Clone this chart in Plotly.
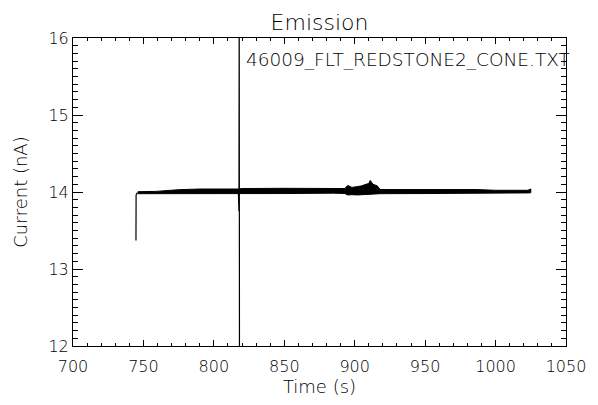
import plotly.graph_objects as go

# ---- data ----
start_t = [744.7, 744.8, 745.4, 746.0]
start_v = [13.37, 13.96, 13.985, 13.99]

band_t = [746, 759, 775, 790, 817, 820, 850, 885, 893, 895, 898, 902, 905, 908,
          910, 911, 913, 916, 918, 950, 986, 1000, 1015, 1023, 1025]
band_hi = [14.004, 14.008, 14.030, 14.039, 14.039, 14.045, 14.048, 14.050, 14.045,
           14.085, 14.060, 14.070, 14.080, 14.100, 14.110, 14.150, 14.100, 14.080,
           14.032, 14.032, 14.032, 14.022, 14.022, 14.022, 14.040]
band_lo = [13.978, 13.978, 13.975, 13.975, 13.975, 13.978, 13.980, 13.985, 13.980,
           13.962, 13.965, 13.962, 13.965, 13.962, 13.965, 13.970, 13.972, 13.975,
           13.978, 13.980, 13.980, 13.988, 13.988, 13.988, 13.990]

spike_t = [817.4, 817.6, 817.8, 818.0, 818.2]
spike_v = [14.0, 16.5, 13.75, 16.5, 11.5]

x_ticks = [700, 750, 800, 850, 900, 950, 1000, 1050]
y_ticks = [12, 13, 14, 15, 16]

title_text = "Emission"
file_label = "46009_FLT_REDSTONE2_CONE.TXT"
x_title = "Time (s)"
y_title = "Current (nA)"

FONT = "DejaVu Sans"
W = 200
TXT = "black"

fig = go.Figure()
fig.add_trace(go.Scatter(
    x=band_t + band_t[::-1], y=band_hi + band_lo[::-1],
    mode="lines", fill="toself", fillcolor="black",
    line=dict(color="black", width=1), hoverinfo="skip", showlegend=False))
fig.add_trace(go.Scatter(x=start_t, y=start_v, mode="lines",
                         line=dict(color="black", width=1.2), showlegend=False))
fig.add_trace(go.Scatter(x=spike_t, y=spike_v, mode="lines",
                         line=dict(color="black", width=1.2), showlegend=False))

axis_common = dict(showline=True, linecolor="black", linewidth=1, mirror="ticks",
                   ticks="inside", tickcolor="black", showgrid=False, zeroline=False,
                   tickfont=dict(family=FONT, size=16, color=TXT, weight=W))

fig.update_xaxes(range=[700, 1050], tickvals=x_ticks, ticktext=[str(v) for v in x_ticks],
                 ticklen=6, tickwidth=1, ticklabelstandoff=6,
                 minor=dict(dtick=10, tick0=700, ticklen=3, ticks="inside", tickcolor="black", showgrid=False),
                 title=dict(text=x_title, font=dict(family=FONT, size=18, color=TXT, weight=W), standoff=4),
                 **axis_common)
fig.update_yaxes(range=[12, 16], tickvals=y_ticks, ticktext=[str(v) for v in y_ticks],
                 ticklen=10, tickwidth=1,
                 minor=dict(dtick=0.1, tick0=12, ticklen=5, ticks="inside", tickcolor="black", showgrid=False),
                 title=dict(text=y_title, font=dict(family=FONT, size=18, color=TXT, weight=W), standoff=16),
                 **axis_common)

fig.add_annotation(x=821.3, y=15.72, xref="x", yref="y", text=file_label,
                   showarrow=False, xanchor="left", yanchor="middle",
                   font=dict(family=FONT, size=18.5, color=TXT, weight=W))

fig.update_layout(
    width=598, height=405,
    margin=dict(l=73, r=27, t=38, b=57),
    paper_bgcolor="white", plot_bgcolor="white",
    title=dict(text=title_text, x=0.5, xanchor="center", xref="paper",
               y=0.945, yref="container", yanchor="middle",
               font=dict(family=FONT, size=22, color=TXT, weight=W)),
    showlegend=False,
)

fig.write_html("out.html")
